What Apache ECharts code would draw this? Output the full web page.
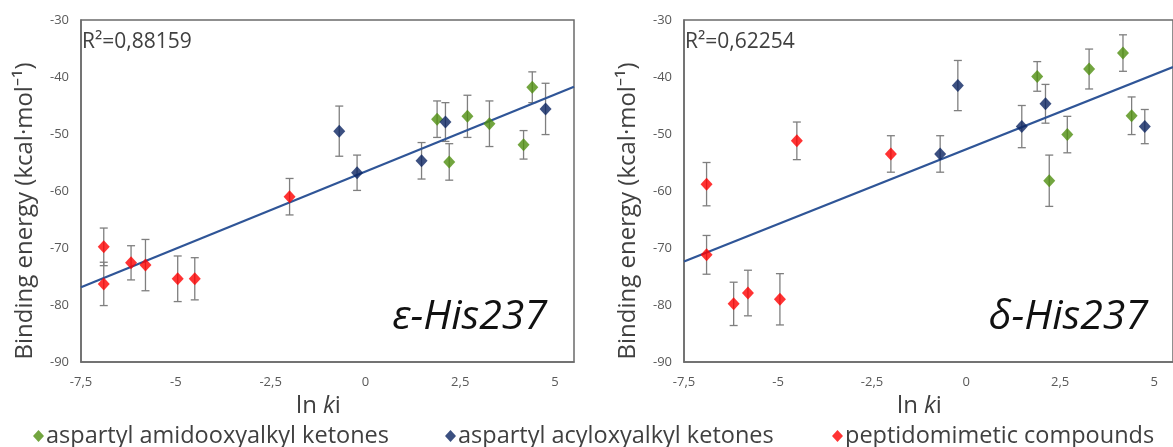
<!DOCTYPE html>
<html>
<head>
<meta charset="utf-8">
<script src="https://cdn.jsdelivr.net/npm/echarts@6/dist/echarts.min.js"></script>
<style>
  html, body { margin: 0; padding: 0; background: #fff; }
  #chart { width: 1173px; height: 447px; }
</style>
</head>
<body>
<div id="chart"></div>
<script>
// ln ki of each compound (same compounds in both panels)
const pepLnKi = [-6.9, -6.9, -6.18, -5.8, -4.95, -4.5, -2.0];
const acyLnKi = [-0.69, -0.22, 1.48, 2.11, 4.75];
const amidoLnKi = [1.89, 2.21, 2.69, 3.27, 4.17, 4.4];

// binding energies, epsilon-His237
const pepEps = [-69.8, -76.3, -72.6, -73.0, -75.4, -75.4, -61.0];
const pepEpsErr = [3.3, 3.8, 3.0, 4.5, 4.0, 3.7, 3.2];
const acyEps = [-49.5, -56.8, -54.7, -47.9, -45.6];
const acyEpsErr = [4.4, 3.1, 3.2, 3.4, 4.5];
const amidoEps = [-47.4, -54.9, -46.9, -48.2, -51.9, -41.8];
const amidoEpsErr = [3.2, 3.2, 3.7, 4.0, 2.5, 2.7];

// binding energies, delta-His237
const pepDelta = [-58.8, -71.2, -79.8, -77.9, -79.0, -51.2, -53.5];
const pepDeltaErr = [3.8, 3.4, 3.8, 4.0, 4.5, 3.3, 3.2];
const acyDelta = [-53.5, -41.5, -48.7, -44.7, -48.7];
const acyDeltaErr = [3.2, 4.4, 3.7, 3.4, 3.0];
const amidoDelta = [-39.9, -58.2, -50.1, -38.6, -35.8, -46.8];
const amidoDeltaErr = [2.6, 4.5, 3.2, 3.5, 3.2, 3.3];

const groupNames = ['aspartyl amidooxyalkyl ketones', 'aspartyl acyloxyalkyl ketones', 'peptidomimetic compounds'];
const groupColors = ['#4f8f0f', '#0b2462', '#ff0000'];
const r2Labels = ['R\u00b2=0,88159', 'R\u00b2=0,62254'];
const panelLabels = ['\u03b5-His237', '\u03b4-His237'];

const xMin = -7.5, xMax = 5.5;

function pairs(xs, ys) {
    return xs.map((x, i) => [x, ys[i]]);
}
function errPairs(xs, ys, es) {
    return xs.map((x, i) => [x, ys[i] - es[i], ys[i] + es[i]]);
}
// least squares trend line over all points of a panel
function fit(xs, ys) {
    let n = xs.length, sx = 0, sy = 0, sxx = 0, sxy = 0;
    for (let i = 0; i < n; i++) {
        sx += xs[i]; sy += ys[i]; sxx += xs[i] * xs[i]; sxy += xs[i] * ys[i];
    }
    let b = (n * sxy - sx * sy) / (n * sxx - sx * sx);
    let a = (sy - b * sx) / n;
    return [[xMin, a + b * xMin], [xMax, a + b * xMax]];
}

function errorBar(params, api) {
    let x = api.value(0);
    let lo = api.coord([x, api.value(1)]);
    let hi = api.coord([x, api.value(2)]);
    let w = 4;
    let style = { stroke: '#7f7f7f', lineWidth: 1.3 };
    return {
        type: 'group',
        children: [
            { type: 'line', shape: { x1: lo[0], y1: lo[1], x2: hi[0], y2: hi[1] }, style: style },
            { type: 'line', shape: { x1: lo[0] - w, y1: lo[1], x2: lo[0] + w, y2: lo[1] }, style: style },
            { type: 'line', shape: { x1: hi[0] - w, y1: hi[1], x2: hi[0] + w, y2: hi[1] }, style: style }
        ]
    };
}

const panels = [
    { ys: [amidoEps, acyEps, pepEps], es: [amidoEpsErr, acyEpsErr, pepEpsErr] },
    { ys: [amidoDelta, acyDelta, pepDelta], es: [amidoDeltaErr, acyDeltaErr, pepDeltaErr] }
];
const xsByGroup = [amidoLnKi, acyLnKi, pepLnKi];

let series = [];
panels.forEach((p, k) => {
    let allX = [], allY = [];
    xsByGroup.forEach((xs, g) => {
        allX = allX.concat(xs);
        allY = allY.concat(p.ys[g]);
        series.push({
            type: 'custom',
            xAxisIndex: k, yAxisIndex: k,
            renderItem: errorBar,
            data: errPairs(xs, p.ys[g], p.es[g]),
            z: 1,
            silent: true
        });
    });
    series.push({
        type: 'line',
        xAxisIndex: k, yAxisIndex: k,
        data: fit(allX, allY),
        symbol: 'none',
        lineStyle: { color: '#2f5597', width: 2.2 },
        z: 2,
        silent: true
    });
    xsByGroup.forEach((xs, g) => {
        series.push({
            name: groupNames[g],
            type: 'scatter',
            xAxisIndex: k, yAxisIndex: k,
            data: pairs(xs, p.ys[g]),
            symbol: 'diamond',
            symbolSize: [12, 13],
            itemStyle: { color: groupColors[g] },
            z: 3
        });
    });
});

const labelColor = '#595959';
const fontFam = '"Open Sans", "Noto Sans", sans-serif';

function xAxis(i) {
    return {
        gridIndex: i,
        type: 'value',
        min: xMin, max: xMax, interval: 2.5,
        name: '{n|ln }{i|k}{n|i}',
        nameLocation: 'middle',
        nameGap: 32,
        nameTextStyle: {
            padding: [0, 18, 0, 0],
            rich: {
                n: { fontSize: 24, color: '#404040', fontFamily: fontFam },
                i: { fontSize: 24, color: '#404040', fontFamily: fontFam, fontStyle: 'italic' }
            }
        },
        axisLine: { onZero: false, lineStyle: { color: '#6b6b6b', width: 1.5 } },
        axisTick: { show: false },
        splitLine: { show: false },
        axisLabel: {
            showMaxLabel: false,
            color: labelColor, fontSize: 13, fontFamily: fontFam, margin: 14,
            formatter: v => String(v).replace('.', ',')
        }
    };
}
function yAxis(i) {
    return {
        gridIndex: i,
        type: 'value',
        min: -90, max: -30, interval: 10,
        name: 'Binding energy (kcal\u00b7mol\u207b\u00b9)',
        nameLocation: 'middle',
        nameGap: 44,
        nameTextStyle: { fontSize: 24, color: '#404040', fontFamily: fontFam, padding: [0, 40, 0, 0] },
        axisLine: { onZero: false, lineStyle: { color: '#6b6b6b', width: 1.5 } },
        axisTick: { show: false },
        splitLine: { show: false },
        axisLabel: { color: labelColor, fontSize: 13, fontFamily: fontFam, margin: 12 }
    };
}

function legend(g, left) {
    return {
        data: [groupNames[g]],
        left: left, top: 419,
        icon: 'diamond',
        itemWidth: 11, itemHeight: 12,
        itemGap: 2,
        selectedMode: false,
        textStyle: { fontSize: 23.5, color: '#404040', fontFamily: fontFam, padding: [0, 0, 0, -3] }
    };
}

let chart = echarts.init(document.getElementById('chart'));
chart.setOption({
    animation: false,
    grid: [
        { left: 81, top: 20, width: 493, height: 342, show: true, borderColor: '#6b6b6b', borderWidth: 1.5 },
        { left: 684, top: 20, width: 503, height: 342, show: true, borderColor: '#6b6b6b', borderWidth: 1.5 }
    ],
    xAxis: [xAxis(0), xAxis(1)],
    yAxis: [yAxis(0), yAxis(1)],
    legend: [legend(0, 28), legend(1, 440), legend(2, 827)],
    graphic: [
        { type: 'text', left: 82, top: 32, style: { text: r2Labels[0], fontSize: 21, fill: '#404040', fontFamily: fontFam } },
        { type: 'text', left: 685, top: 32, style: { text: r2Labels[1], fontSize: 21, fill: '#404040', fontFamily: fontFam } },
        { type: 'text', x: 547, y: 338, style: { text: panelLabels[0], fontSize: 41, fontStyle: 'italic', fill: '#111', fontFamily: fontFam, align: 'right', verticalAlign: 'bottom' } },
        { type: 'text', x: 1148, y: 338, style: { text: panelLabels[1], fontSize: 41, fontStyle: 'italic', fill: '#111', fontFamily: fontFam, align: 'right', verticalAlign: 'bottom' } }
    ],
    series: series
});
</script>
</body>
</html>
